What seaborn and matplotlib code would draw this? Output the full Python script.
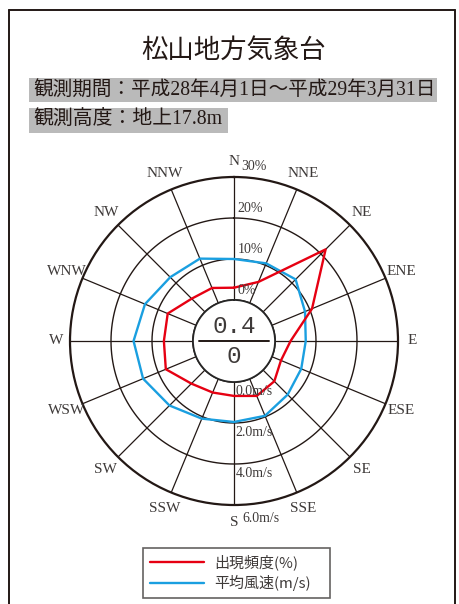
import numpy as np
import pandas as pd
import matplotlib
matplotlib.use("Agg")
import matplotlib.pyplot as plt
import seaborn as sns
from matplotlib.lines import Line2D
from matplotlib.patches import Rectangle

# ---- data ---------------------------------------------------------------
directions = ["N", "NNE", "NE", "ENE", "E", "ESE", "SE", "SSE",
              "S", "SSW", "SW", "WSW", "W", "WNW", "NW", "NNW"]
frequency_pct = [3.0, 5.6, 21.6, 10.6, 3.8, 2.4, 3.9, 4.5,
                 3.4, 3.6, 4.7, 8.0, 7.1, 7.5, 4.6, 4.0]
mean_speed_ms = [2.0, 2.1, 2.25, 1.75, 1.5, 1.55, 1.7, 1.95,
                 1.95, 2.1, 2.45, 2.8, 2.9, 2.7, 2.4, 2.35]
calm_top = "0.4"
calm_bottom = "0"
pct_ticks = [0, 10, 20, 30]
pct_labels = ["0%", "10%", "20%", "30%"]
speed_ticks = [0.0, 2.0, 4.0, 6.0]
speed_labels = ["0.0m/s", "2.0m/s", "4.0m/s", "6.0m/s"]

title = "松山地方気象台"
period = "観測期間：平成28年4月1日～平成29年3月31日"
height = "観測高度：地上17.8m"
legend_labels = ["出現頻度(%)", "平均風速(m/s)"]

# ---- style --------------------------------------------------------------
sns.set_theme(style="white")
plt.rcParams["font.family"] = ["Liberation Serif", "Noto Sans CJK JP", "DejaVu Sans"]
CJK = ["Noto Sans CJK JP", "DejaVu Sans"]
MIXED = ["Liberation Serif", "Noto Sans CJK JP"]
INK = "#231815"
GREY_TXT = "#3e3a39"
RED = "#e60012"
BLUE = "#1a9fe0"
SPEED_TO_PCT = 5.0  # 2 m/s per 10 % ring

W, H = 459, 604
fig = plt.figure(figsize=(W / 100, H / 100), dpi=100)
fig.patch.set_facecolor("white")


def fx(px):
    return px / W


def fy(py):
    return 1 - py / H


# page frame (left, top, right)
fig.add_artist(Line2D([fx(9), fx(9)], [0, fy(10)], color=INK, lw=1.4))
fig.add_artist(Line2D([fx(9), fx(455)], [fy(10), fy(10)], color=INK, lw=1.4))
fig.add_artist(Line2D([fx(455), fx(455)], [0, fy(10)], color=INK, lw=1.4))

# headings
fig.text(fx(234), fy(50), title, family=CJK, fontsize=19, color=INK,
         ha="center", va="center")
fig.add_artist(Rectangle((fx(29), fy(102)), fx(437) - fx(29), fy(78) - fy(102),
                         transform=fig.transFigure, facecolor="#bababa",
                         edgecolor="none"))
fig.text(fx(33), fy(90), period, family=MIXED, fontsize=14.1, color=INK,
         ha="left", va="center")
fig.add_artist(Rectangle((fx(29), fy(133)), fx(228) - fx(29), fy(108) - fy(133),
                         transform=fig.transFigure, facecolor="#bababa",
                         edgecolor="none"))
fig.text(fx(33), fy(120.5), height, family=MIXED, fontsize=14.3, color=INK,
         ha="left", va="center")

# ---- polar rose ---------------------------------------------------------
cx, cy, R = 234, 341, 164
ax = fig.add_axes([fx(cx - R), fy(cy + R), 2 * R / W, 2 * R / H],
                  projection="polar")
ax.set_theta_zero_location("N")
ax.set_theta_direction(-1)
ax.set_ylim(0, 30)
ax.set_rorigin(-10)
ax.set_xticks([])
ax.set_yticks([])
ax.grid(False)
ax.set_facecolor("none")
ax.spines["polar"].set_color(INK)
ax.spines["polar"].set_linewidth(1.6)
for k in ("inner", "start", "end"):
    if k in ax.spines:
        ax.spines[k].set_visible(False)

theta = np.deg2rad(np.arange(len(directions)) * 22.5)
circle = np.linspace(0, 2 * np.pi, 361)
for r in pct_ticks[:-1]:
    ax.plot(circle, np.full_like(circle, r), color=INK, lw=1.0 if r else 1.3)
for t in theta:
    ax.plot([t, t], [0, 30], color=INK, lw=0.9)

# series, closed polygons
closed_theta = np.append(theta, theta[0])
freq_df = pd.DataFrame({"theta": closed_theta,
                        "r": np.append(frequency_pct, frequency_pct[0])})
speed_df = pd.DataFrame({"theta": closed_theta,
                         "r": np.append(mean_speed_ms, mean_speed_ms[0]) * SPEED_TO_PCT})
sns.lineplot(data=speed_df, x="theta", y="r", sort=False, estimator=None,
             color=BLUE, lw=1.7, ax=ax, legend=False)
sns.lineplot(data=freq_df, x="theta", y="r", sort=False, estimator=None,
             color=RED, lw=1.7, ax=ax, legend=False)
ax.set_xlabel("")
ax.set_ylabel("")

# direction names
for t, name in zip(theta, directions):
    r_lab = 33.4 if name in ("E", "W") else 34.2
    if name == "N":
        r_lab = 33.8
    ax.text(t, r_lab, name, fontsize=11, color=GREY_TXT, ha="center",
            va="center", clip_on=False, family="Liberation Serif")

# percent scale along N, speed scale along S
for r, lab in zip(pct_ticks, pct_labels):
    off = (2.5, 2.5) if r < 30 else (5, 3)
    ax.annotate(lab, xy=(0, r), xytext=off, textcoords="offset points",
                fontsize=10, color=GREY_TXT, ha="left", va="bottom",
                family="Liberation Serif", annotation_clip=False)
for s, lab in zip(speed_ticks, speed_labels):
    off = (1, -2) if s < 6 else (6, -5)
    ax.annotate(lab, xy=(np.pi, s * SPEED_TO_PCT), xytext=off,
                textcoords="offset points", fontsize=10, color=GREY_TXT,
                ha="left", va="top", family="Liberation Serif",
                annotation_clip=False)

# calm in the centre
ax.plot([0.393, 0.607], [0.5, 0.5], transform=ax.transAxes, color=INK, lw=1.4,
        clip_on=False)
ax.text(0.5, 0.545, calm_top, transform=ax.transAxes, fontsize=17.5,
        family="Liberation Mono", color=GREY_TXT, ha="center", va="center")
ax.text(0.5, 0.452, calm_bottom, transform=ax.transAxes, fontsize=17.5,
        family="Liberation Mono", color=GREY_TXT, ha="center", va="center")

# ---- legend -------------------------------------------------------------
handles = [Line2D([], [], color=RED, lw=1.7), Line2D([], [], color=BLUE, lw=1.7)]
leg = fig.legend(handles, legend_labels, loc="upper left", mode="expand",
                 bbox_to_anchor=(fx(143), fy(595), fx(330) - fx(143),
                                 fy(548) - fy(595)),
                 frameon=True, fancybox=False,
                 edgecolor=GREY_TXT, prop={"family": CJK, "size": 10.8},
                 handlelength=3.6, handletextpad=0.7, borderpad=0.45,
                 labelspacing=0.3, borderaxespad=0)
leg.get_frame().set_linewidth(1.2)
for txt in leg.get_texts():
    txt.set_color(GREY_TXT)

fig.savefig("out.png", dpi=100, facecolor="white")
